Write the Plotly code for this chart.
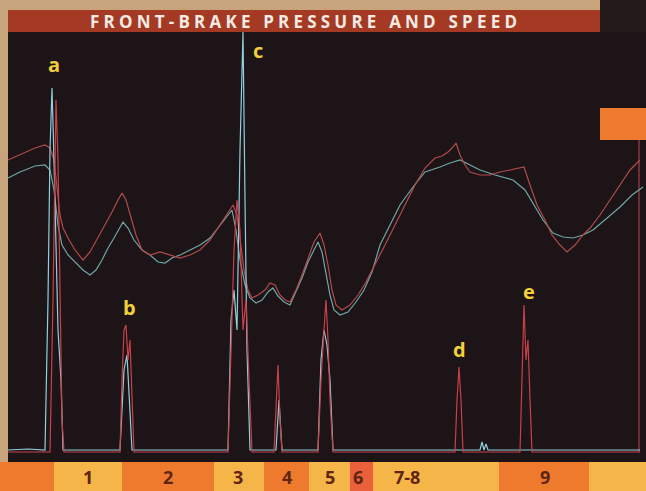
import plotly.graph_objects as go

# ---------------- data (distance units, chart-height units) ----------------
dist_speed_red = [0,12,27,37,42,46,49,52,55,60,67,75,82,90,97,104,110,114,118,122,128,134,142,152,162,172,182,192,202,212,220,225,229,232,236,240,244,250,257,262,267,272,277,282,288,294,300,306,312,316,320,324,328,334,342,350,358,367,377,387,397,407,417,427,434,440,444,448,452,457,462,472,482,492,502,512,516,522,529,537,544,552,559,567,575,582,592,602,612,622,632]
speed_red = [300,305,312,315,312,300,275,245,232,222,210,200,208,222,235,248,260,267,260,245,225,210,205,208,205,202,205,210,220,235,248,255,245,220,190,170,162,165,170,177,175,165,160,158,170,185,202,218,227,215,195,170,155,150,155,165,178,195,215,235,255,275,292,302,304,308,312,317,305,295,288,285,285,288,290,292,293,275,255,240,225,215,208,215,225,232,245,260,275,290,300]

dist_speed_cyan = [0,12,27,37,42,46,50,54,60,67,75,82,88,94,100,106,112,115,120,126,134,142,150,157,164,172,182,192,202,212,220,224,228,232,237,242,248,254,260,265,270,276,282,288,294,300,306,310,314,318,322,326,332,340,348,356,364,372,382,392,405,417,432,442,452,462,472,487,505,517,525,535,545,555,565,575,585,597,612,624,635]
speed_cyan = [282,288,294,295,290,270,235,215,205,198,190,185,190,200,212,222,232,238,232,220,210,205,198,197,202,205,210,215,222,235,245,250,230,200,175,162,157,160,168,172,164,158,155,168,182,198,210,218,208,188,165,150,145,148,158,170,188,215,235,255,273,288,293,297,300,295,290,285,280,270,257,240,227,223,222,225,230,240,253,265,273]

dist_press_red = [0,32,42,45,48,50,52,54,56,112,114,116,118,120,122,124,126,220,223,226,229,232,235,238,241,244,266,268,270,272,274,310,313,316,318,320,322,325,447,449,451,453,455,512,514,516,518,520,522,524,632]
press_red = [8,8,8,160,360,300,160,40,8,8,80,130,135,100,120,60,8,8,110,210,260,230,130,160,80,8,8,60,95,40,8,8,80,130,160,120,60,8,8,60,93,60,8,8,80,155,100,120,60,8,8]

dist_press_cyan = [0,20,37,40,42,44,46,48,50,53,55,112,116,119,122,124,220,223,226,229,232,235,237,239,242,268,271,274,310,313,316,319,322,325,472,474,476,478,480,632]
press_cyan = [10,11,10,160,310,372,300,200,130,80,10,10,90,105,40,10,10,140,170,130,310,428,260,110,10,10,60,10,10,100,130,115,80,10,10,18,10,16,10,10]

# track sections along the lap
section_edges = [-8,46,114,206,256,301,342,365,491,581,638]
section_colors = ["#ee7a2e","#f6b548","#ee7a2e","#f6b548","#ee7a2e","#f6b548","#e9603a","#f6b548","#ee7a2e","#f6b548"]
section_labels = ["1","2","3","4","5","6","7-8","9"]
section_label_pos = [80,160,230,279,322,350,399,537]

event_labels = ["a","b","c","d","e"]
event_x = [46,121,250,451,521]
event_y = [396,153,410,111,169]

title_text = "FRONT-BRAKE PRESSURE AND SPEED"

# ---------------- figure ----------------
fig = go.Figure()

def add_line(x, y, color, width):
    fig.add_trace(go.Scatter(x=x, y=y, mode="lines",
                             line=dict(color=color, width=width),
                             hoverinfo="skip", showlegend=False))

add_line(dist_speed_cyan, speed_cyan, "#6fa6a6", 1.2)
add_line(dist_speed_red, speed_red, "#b24a4c", 1.2)
add_line(dist_press_cyan, press_cyan, "#8fd0dc", 1.2)
add_line(dist_press_red, press_red, "#c9404a", 1.2)

shapes = []
# paper border (tan)
shapes.append(dict(type="rect", xref="x", yref="y", x0=-8, x1=0, y0=-2, y1=460,
                   fillcolor="#c8a47c", line_width=0, layer="below"))
shapes.append(dict(type="rect", xref="x", yref="y", x0=-8, x1=592, y0=450, y1=460,
                   fillcolor="#c8a47c", line_width=0, layer="below"))
# dark top-right corner
shapes.append(dict(type="rect", xref="x", yref="y", x0=592, x1=638, y0=428, y1=460,
                   fillcolor="#241a1c", line_width=0, layer="above"))
# title bar
shapes.append(dict(type="rect", xref="x", yref="y", x0=0, x1=592, y0=428, y1=450,
                   fillcolor="#a53a24", line_width=0, layer="above"))
# orange tab on right
shapes.append(dict(type="rect", xref="x", yref="y", x0=592, x1=638, y0=320, y1=352,
                   fillcolor="#ee7a30", line_width=0, layer="above"))
# cursor line
shapes.append(dict(type="line", xref="x", yref="y", x0=631, x1=631, y0=8, y1=320,
                   line=dict(color="#a0404e", width=1.2), layer="below"))
# section bar
for i, c in enumerate(section_colors):
    shapes.append(dict(type="rect", xref="x", yref="y",
                       x0=section_edges[i], x1=section_edges[i + 1], y0=-31, y1=-2,
                       fillcolor=c, line_width=0, layer="above"))

annotations = []
annotations.append(dict(x=297, y=439, xref="x", yref="y", text="<b>" + title_text + "</b>",
                        showarrow=False, font=dict(family="Open Sans", size=17, color="#f3ebe4")))
for lab, xx in zip(section_labels, section_label_pos):
    annotations.append(dict(x=xx, y=-17, xref="x", yref="y", text="<b>" + lab + "</b>",
                            showarrow=False, font=dict(family="Open Sans", size=18, color="#5e2414")))
for lab, xx, yy in zip(event_labels, event_x, event_y):
    annotations.append(dict(x=xx, y=yy, xref="x", yref="y", text="<b>" + lab + "</b>",
                            showarrow=False, font=dict(family="Open Sans", size=20, color="#f2cf3a")))

fig.update_layout(
    width=646, height=491,
    margin=dict(l=0, r=0, t=0, b=0),
    paper_bgcolor="#1c1416",
    plot_bgcolor="#1c1416",
    xaxis=dict(range=[-8, 638], visible=False, fixedrange=True),
    yaxis=dict(range=[-31, 460], visible=False, fixedrange=True),
    shapes=shapes,
    annotations=annotations,
    showlegend=False,
)

post = """
document.body.style.margin='0';
document.body.style.overflow='hidden';
document.querySelectorAll('.annotation-text').forEach(function(t){
  if (t.textContent.indexOf('FRONT') === 0) { t.style.letterSpacing = '4.2px'; }
});
"""

fig.write_html("out.html", post_script=post, config={"displayModeBar": False})
